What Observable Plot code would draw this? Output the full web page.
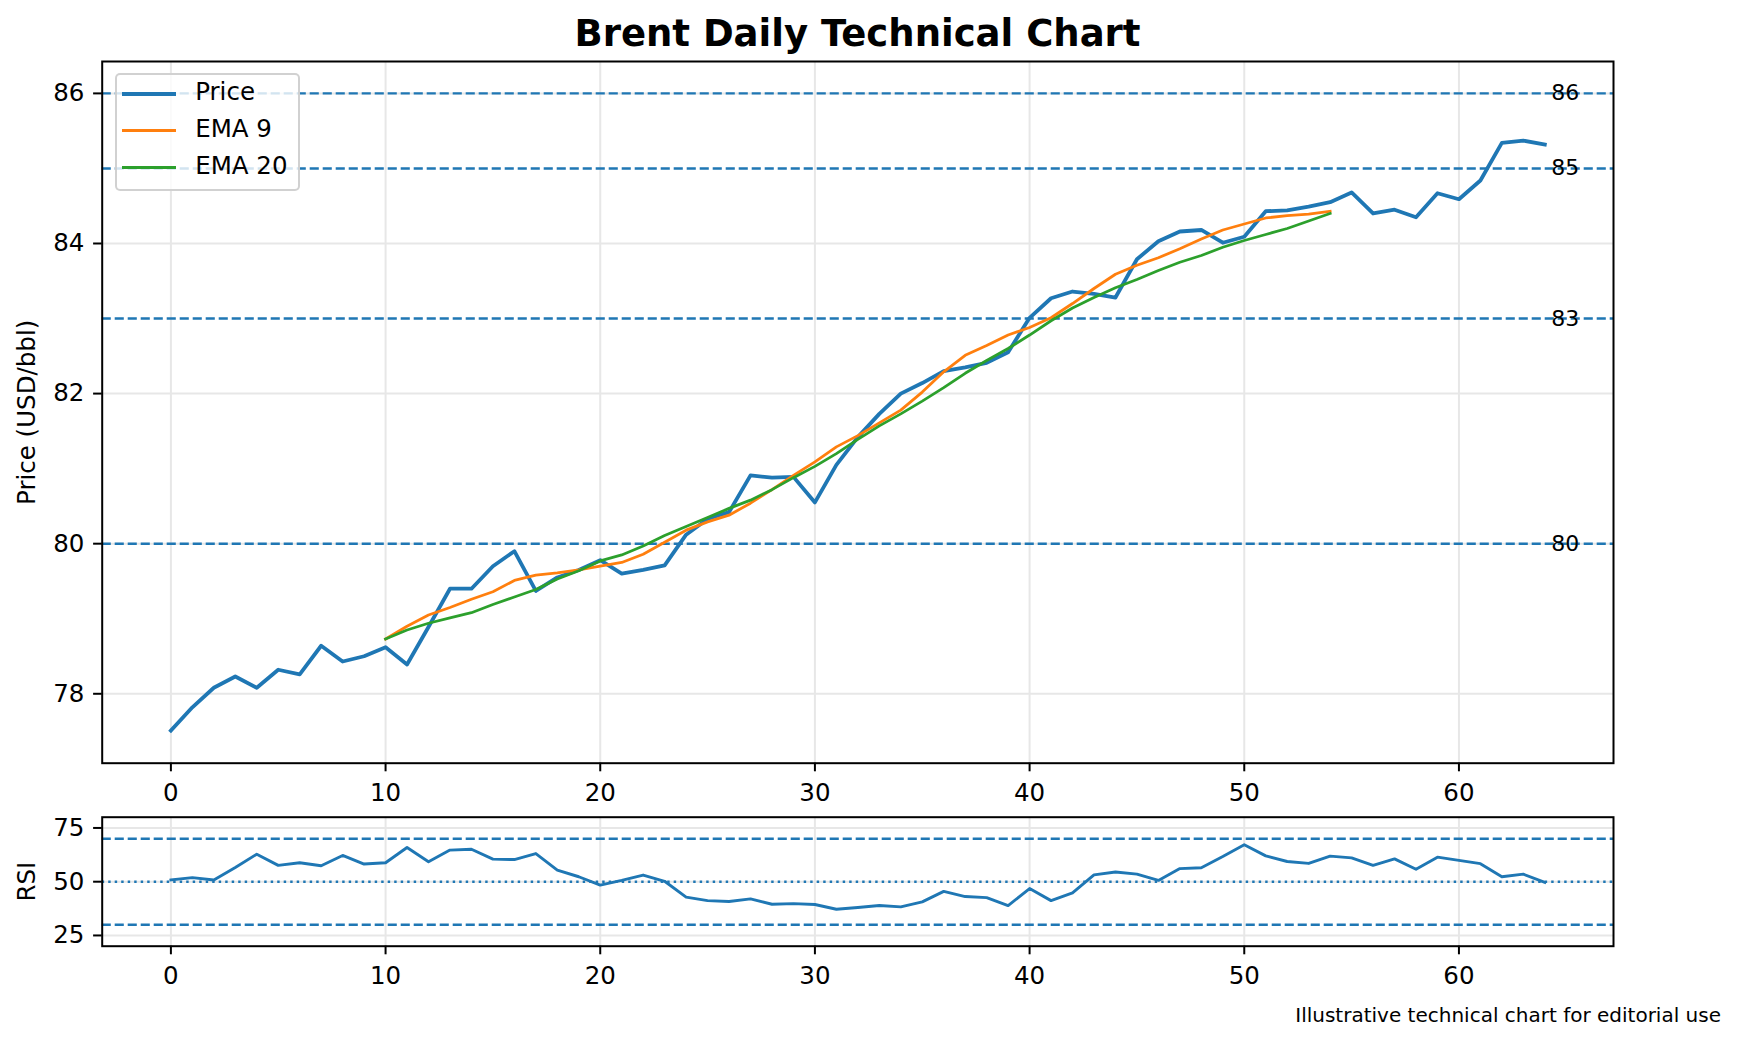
<!DOCTYPE html>
<html>
<head>
<meta charset="utf-8">
<script src="https://cdn.jsdelivr.net/npm/d3@7"></script>
<script src="https://cdn.jsdelivr.net/npm/@observablehq/plot@0.6"></script>
<style>
  html, body { margin: 0; padding: 0; background: white; }
  #root { position: relative; width: 1739px; height: 1044px; font-family: "DejaVu Sans", sans-serif; overflow: hidden; }
  .abs { position: absolute; }
  #title { left: 0; width: 1715px; top: 15px; text-align: center; font-weight: bold; font-size: 37px; line-height: 37px; color: black; }
  #caption { right: 18px; top: 1004.5px; font-size: 20px; line-height: 20px; color: black; white-space: nowrap; }
  #legend { left: 114.8px; top: 73.3px; width: 181px; height: 114px; border: 2px solid rgba(204,204,204,0.9); border-radius: 5px; background: rgba(255,255,255,0.8); box-sizing: content-box; }
  .lg-row { position: absolute; left: 0; height: 0; }
  .lg-line { position: absolute; left: 5.7px; width: 53.5px; }
  .lg-text { position: absolute; left: 78.4px; font-size: 24.5px; line-height: 24.5px; white-space: nowrap; color: black; }
</style>
</head>
<body>
<div id="root">
  <div id="main" class="abs" style="left:0;top:0"></div>
  <div id="rsi" class="abs" style="left:0;top:805px"></div>
  <div id="title" class="abs">Brent Daily Technical Chart</div>
  <div id="legend" class="abs"></div>
  <div id="caption" class="abs">Illustrative technical chart for editorial use</div>
</div>
<script>
// ---- data ----
const priceValues = [77.51, 77.82, 78.08, 78.23, 78.08, 78.32, 78.26, 78.64, 78.43, 78.50,
  78.62, 78.39, 78.89, 79.40, 79.40, 79.70, 79.90, 79.37, 79.55, 79.65,
  79.78, 79.60, 79.65, 79.71, 80.12, 80.33, 80.42, 80.91, 80.88, 80.89,
  80.55, 81.05, 81.42, 81.73, 82.00, 82.14, 82.30, 82.35, 82.41, 82.55,
  83.01, 83.27, 83.36, 83.33, 83.28, 83.79, 84.03, 84.16, 84.18, 84.01,
  84.09, 84.43, 84.44, 84.49, 84.55, 84.68, 84.40, 84.45, 84.35, 84.67,
  84.59, 84.84, 85.34, 85.37, 85.32];
const emaStart = 10;
const ema9Values = [78.73, 78.90, 79.05, 79.15, 79.26, 79.36, 79.51, 79.58, 79.61, 79.65,
  79.70, 79.75, 79.86, 80.02, 80.18, 80.29, 80.38, 80.54, 80.72, 80.91,
  81.09, 81.29, 81.44, 81.61, 81.78, 82.02, 82.29, 82.51, 82.64, 82.78,
  82.88, 83.01, 83.20, 83.40, 83.59, 83.71, 83.81, 83.93, 84.06, 84.18,
  84.26, 84.34, 84.37, 84.39, 84.43];
const ema20Values = [78.73, 78.85, 78.94, 79.01, 79.08, 79.19, 79.29, 79.39, 79.53, 79.64,
  79.77, 79.85, 79.97, 80.11, 80.23, 80.35, 80.47, 80.58, 80.72, 80.88,
  81.03, 81.20, 81.39, 81.57, 81.73, 81.90, 82.08, 82.27, 82.44, 82.60,
  82.78, 82.97, 83.14, 83.28, 83.41, 83.52, 83.64, 83.75, 83.84, 83.95,
  84.04, 84.12, 84.20, 84.30, 84.40];
const rsiValues = [50.8, 51.9, 50.8, 56.6, 62.8, 57.6, 58.8, 57.4, 62.2, 58.2,
  58.8, 65.9, 59.3, 64.7, 65.1, 60.5, 60.3, 63.1, 55.4, 52.3,
  48.4, 50.6, 53.1, 50.2, 42.8, 41.2, 40.8, 42.0, 39.5, 39.8,
  39.4, 37.2, 38.0, 38.9, 38.3, 40.6, 45.5, 43.1, 42.6, 38.9,
  46.8, 41.2, 44.8, 53.2, 54.5, 53.5, 50.6, 56.1, 56.5, 61.7,
  67.2, 62.0, 59.4, 58.5, 61.9, 61.1, 57.6, 60.6, 55.8, 61.4,
  59.9, 58.4, 52.3, 53.5, 49.7];
const levels = [86, 85, 83, 80];
const rsiBands = [70, 30];
const rsiMid = [50];
const xTicks = [0, 10, 20, 30, 40, 50, 60];
const yTicks = [78, 80, 82, 84, 86];
const rsiTicks = [25, 50, 75];
const seriesNames = ["Price", "EMA 9", "EMA 20"];
const seriesColors = ["#1f77b4", "#ff7f0e", "#2ca02c"];

// ---- build tables ----
const priceRows = priceValues.map((v, i) => ({i, v}));
const ema9Rows = ema9Values.map((v, k) => ({i: k + emaStart, v}));
const ema20Rows = ema20Values.map((v, k) => ({i: k + emaStart, v}));
const rsiRows = rsiValues.map((v, i) => ({i, v}));

const xDomain = [-3.2, 67.2];
const common = {
  width: 1739,
  marginLeft: 101.7,
  marginRight: 126,
  style: {fontFamily: "DejaVu Sans", background: "transparent", overflow: "visible", color: "black"}
};
const gridStroke = "#e7e7e7";
const fmt = d => String(d);
const axisOpts = {tickSize: 8.6, fontSize: 24.5, strokeWidth: 2, label: null, tickFormat: fmt};

const main = Plot.plot({
  ...common,
  height: 805,
  marginTop: 61,
  marginBottom: 42.3,
  x: {domain: xDomain},
  y: {domain: [77.075, 86.425]},
  marks: [
    Plot.gridX(xTicks, {stroke: gridStroke, strokeOpacity: 1, strokeWidth: 2}),
    Plot.gridY(yTicks, {stroke: gridStroke, strokeOpacity: 1, strokeWidth: 2}),
    Plot.ruleY(levels, {stroke: "#1f77b4", strokeWidth: 2.45, strokeDasharray: "9.1,3.9"}),
    Plot.line(priceRows, {x: "i", y: "v", stroke: seriesColors[0], strokeWidth: 3.8, strokeLinecap: "square"}),
    Plot.line(ema9Rows, {x: "i", y: "v", stroke: seriesColors[1], strokeWidth: 2.8, strokeLinecap: "square"}),
    Plot.line(ema20Rows, {x: "i", y: "v", stroke: seriesColors[2], strokeWidth: 2.8, strokeLinecap: "square"}),
    Plot.text(levels, {x: 64.3, y: d => d, text: d => String(d), textAnchor: "start", lineAnchor: "middle", fontSize: 22, fill: "black"}),
    Plot.frame({stroke: "black", strokeWidth: 2}),
    Plot.axisX(xTicks, {...axisOpts, tickPadding: 11.5}),
    Plot.axisY(yTicks, {...axisOpts, tickPadding: 9.2}),
    Plot.text(["Price (USD/bbl)"], {frameAnchor: "left", dx: -75.5, rotate: -90, text: d => d, textAnchor: "middle", lineAnchor: "middle", fontSize: 24.5, fill: "black"})
  ]
});
document.getElementById("main").appendChild(main);

const rsi = Plot.plot({
  ...common,
  height: 195,
  marginTop: 11.7,
  marginBottom: 54.3,
  x: {domain: xDomain},
  y: {domain: [20, 80]},
  marks: [
    Plot.gridX(xTicks, {stroke: gridStroke, strokeOpacity: 1, strokeWidth: 2}),
    Plot.gridY(rsiTicks, {stroke: gridStroke, strokeOpacity: 1, strokeWidth: 2}),
    Plot.ruleY(rsiBands, {stroke: "#1f77b4", strokeWidth: 2.45, strokeDasharray: "9.1,3.9"}),
    Plot.ruleY(rsiMid, {stroke: "#1f77b4", strokeWidth: 2.45, strokeDasharray: "2.45,4.05"}),
    Plot.line(rsiRows, {x: "i", y: "v", stroke: "#1f77b4", strokeWidth: 2.9, strokeLinecap: "square"}),
    Plot.frame({stroke: "black", strokeWidth: 2}),
    Plot.axisX(xTicks, {...axisOpts, tickPadding: 11.5}),
    Plot.axisY(rsiTicks, {...axisOpts, tickPadding: 9.2}),
    Plot.text(["RSI"], {frameAnchor: "left", dx: -75.5, rotate: -90, text: d => d, textAnchor: "middle", lineAnchor: "middle", fontSize: 24.5, fill: "black"})
  ]
});
document.getElementById("rsi").appendChild(rsi);

// ---- legend ----
const legend = document.getElementById("legend");
const rowY = [18.4, 55.0, 92.0];
const widths = [3.8, 2.8, 2.8];
seriesNames.forEach((name, k) => {
  const row = document.createElement("div");
  row.className = "lg-row";
  row.style.top = rowY[k] + "px";
  const ln = document.createElement("div");
  ln.className = "lg-line";
  ln.style.height = widths[k] + "px";
  ln.style.top = (-widths[k] / 2) + "px";
  ln.style.background = seriesColors[k];
  const tx = document.createElement("div");
  tx.className = "lg-text";
  tx.style.top = "-13.5px";
  tx.textContent = name;
  row.appendChild(ln);
  row.appendChild(tx);
  legend.appendChild(row);
});
</script>
</body>
</html>
